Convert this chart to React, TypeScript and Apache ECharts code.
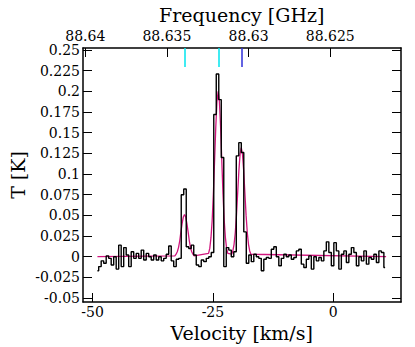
import { useEffect, useRef } from 'react';
import * as echarts from 'echarts';

// Spectrum channel grid (km/s)
const CHANNEL_START = -49.0;
const CHANNEL_WIDTH = 0.52;

// Observed antenna temperature per channel (K)
const spectrumT = [
  -0.017, -0.012, -0.005, -0.008, 0.001, -0.002, -0.010, 0.000, -0.015, 0.014,
  -0.012, 0.011, 0.002, -0.012, 0.006, -0.002, 0.004, -0.002, 0.008, -0.004,
  0.004, 0.000, -0.004, 0.002, -0.004, 0.000, -0.005, -0.002, 0.003, 0.013,
  -0.005, -0.012, -0.003, -0.002, 0.075, 0.082, 0.012, 0.010, 0.014, 0.002,
  -0.010, -0.012, -0.004, -0.006, -0.002, 0.000, 0.005, 0.172, 0.221, 0.190,
  0.120, -0.012, 0.011, 0.008, 0.000, 0.006, 0.122, 0.138, 0.126, 0.030,
  -0.008, 0.002, -0.006, 0.003, 0.000, -0.002, -0.017, -0.003, -0.001, -0.002,
  0.009, 0.012, 0.000, -0.011, -0.002, 0.003, 0.000, 0.002, -0.003, -0.001,
  0.007, 0.009, -0.009, -0.013, -0.003, 0.001, -0.015, 0.000, -0.005, -0.001,
  -0.005, 0.007, 0.018, 0.005, -0.011, 0.017, 0.007, -0.015, 0.003, 0.007,
  -0.007, 0.003, 0.011, 0.005, -0.011, 0.000, -0.005, 0.007, -0.009, -0.001,
  -0.003, 0.003, -0.007, 0.007, 0.005, -0.013,
];

// Fitted model (magenta curve)
const fitVelocity = [
  -49.0,
  -32.9, -32.65, -32.4, -32.15, -31.9, -31.65, -31.4, -31.15, -30.9,
  -30.65, -30.4, -30.15, -29.9, -29.65, -29.4, -29.15, -28.9,
  -25.9, -25.65, -25.4, -25.15, -24.9, -24.65, -24.4, -24.15, -23.9,
  -23.65, -23.4, -23.15, -22.9, -22.65, -22.4, -22.15, -21.9,
  -21.1, -20.85, -20.6, -20.35, -20.1, -19.85, -19.6, -19.35, -19.1,
  -18.85, -18.6, -18.35, -18.1, -17.85, -17.6, -17.35, -17.1,
  11.0,
];
const fitT = [
  0.0,
  0.001, 0.003, 0.006, 0.011, 0.019, 0.030, 0.040, 0.048, 0.051,
  0.048, 0.040, 0.030, 0.019, 0.011, 0.006, 0.003, 0.001,
  0.004, 0.010, 0.023, 0.044, 0.076, 0.116, 0.157, 0.188, 0.200,
  0.188, 0.157, 0.116, 0.076, 0.044, 0.023, 0.010, 0.004,
  0.003, 0.007, 0.015, 0.029, 0.050, 0.077, 0.104, 0.124, 0.132,
  0.124, 0.104, 0.077, 0.050, 0.029, 0.015, 0.007, 0.003,
  0.0,
];

// Line rest positions marked at the top (km/s)
const markerVelocity = [-30.85, -23.78, -18.92];

// Tick values
const velocityTicks = [-50, -25, 0];
const frequencyTicks = [88.64, 88.635, 88.63, 88.625];
const temperatureTicks = [
  -0.05, -0.025, 0, 0.025, 0.05, 0.075, 0.1, 0.125, 0.15, 0.175, 0.2, 0.225, 0.25,
];

// Axis extents
const X_MIN = -52.0;
const X_MAX = 14.1;
const F_HIGH = 88.64014;
const F_LOW = 88.62067;
const Y_MIN = -0.0548;
const Y_MAX = 0.2525;

// styles
const FONT = 'DejaVu Serif';
const MARKER_BOTTOM = 0.2295;
const markerColors = ['#00e5ee', '#00e5ee', '#2f2fd8'];
const MAGENTA = '#d0157d';

const fmt = (v: number) => String(parseFloat(Number(v).toFixed(4)));

export default function App() {
  const ref = useRef<HTMLDivElement>(null);
  useEffect(() => {
    if (!ref.current) return;
    const chart = echarts.init(ref.current, null, { renderer: 'svg' });
    const spectrum = spectrumT.map((t, i) => [
      +(CHANNEL_START + CHANNEL_WIDTH * i).toFixed(3),
      t,
    ]);
    const fit = fitVelocity.map((v, i) => [v, fitT[i]]);
    const axisLine = { show: true, onZero: false, lineStyle: { color: '#000', width: 1.5 } };
    const tickStyle = { color: '#000', width: 1 };
    const labelStyle = { fontFamily: FONT, fontSize: 14, color: '#000', formatter: fmt };
    const titleStyle = {
      font: `19px ${FONT}`,
      fill: '#000',
      textAlign: 'center',
      textVerticalAlign: 'middle',
      align: 'center',
      verticalAlign: 'middle',
    };
    chart.setOption({
      animation: false,
      textStyle: { fontFamily: FONT },
      grid: { left: 83, right: 14, top: 48, bottom: 45, containLabel: false },
      xAxis: [
        {
          type: 'value',
          position: 'bottom',
          min: X_MIN,
          max: X_MAX,
          axisLine,
          splitLine: { show: false },
          axisTick: { show: true, inside: true, length: 9, customValues: velocityTicks, lineStyle: tickStyle },
          axisLabel: { ...labelStyle, margin: 3, customValues: velocityTicks },
        },
        {
          type: 'value',
          position: 'top',
          inverse: true,
          min: F_LOW,
          max: F_HIGH,
          axisLine,
          splitLine: { show: false },
          axisTick: { show: true, inside: true, length: 9, customValues: frequencyTicks, lineStyle: tickStyle },
          axisLabel: { ...labelStyle, margin: 5, customValues: frequencyTicks },
        },
      ],
      yAxis: [
        {
          type: 'value',
          position: 'left',
          min: Y_MIN,
          max: Y_MAX,
          axisLine,
          splitLine: { show: false },
          axisTick: { show: true, inside: true, length: 9, customValues: temperatureTicks, lineStyle: tickStyle },
          axisLabel: { ...labelStyle, margin: 3, customValues: temperatureTicks },
        },
        {
          type: 'value',
          position: 'right',
          min: Y_MIN,
          max: Y_MAX,
          axisLine,
          splitLine: { show: false },
          axisTick: { show: true, inside: true, length: 9, customValues: temperatureTicks, lineStyle: tickStyle },
          axisLabel: { show: false },
        },
      ],
      series: [
        {
          type: 'line',
          name: 'fit',
          data: fit,
          xAxisIndex: 0,
          yAxisIndex: 0,
          showSymbol: false,
          symbol: 'none',
          lineStyle: { color: MAGENTA, width: 1.3 },
          z: 2,
        },
        {
          type: 'line',
          name: 'spectrum',
          data: spectrum,
          xAxisIndex: 0,
          yAxisIndex: 0,
          step: 'middle',
          showSymbol: false,
          symbol: 'none',
          lineStyle: { color: '#000', width: 1.4 },
          z: 3,
          markLine: {
            silent: true,
            symbol: ['none', 'none'],
            label: { show: false },
            data: markerVelocity.map((v, k) => [
              { coord: [v, Y_MAX], lineStyle: { color: markerColors[k], width: 1.5, type: 'solid' } },
              { coord: [v, MARKER_BOTTOM] },
            ]),
          },
        },
      ],
      graphic: [
        {
          type: 'text',
          x: 241.7,
          y: 15,
          style: { text: 'Frequency [GHz]', ...titleStyle },
        },
        {
          type: 'text',
          x: 241.7,
          y: 333,
          style: { text: 'Velocity [km/s]', ...titleStyle },
        },
        {
          type: 'text',
          x: 18,
          y: 175,
          rotation: Math.PI / 2,
          style: { text: 'T [K]', ...titleStyle },
        },
      ],
    });
    return () => chart.dispose();
  }, []);
  return (
    <div
      ref={ref}
      style={{ position: 'absolute', left: 0, top: 0, width: 415, height: 347 }}
    />
  );
}
